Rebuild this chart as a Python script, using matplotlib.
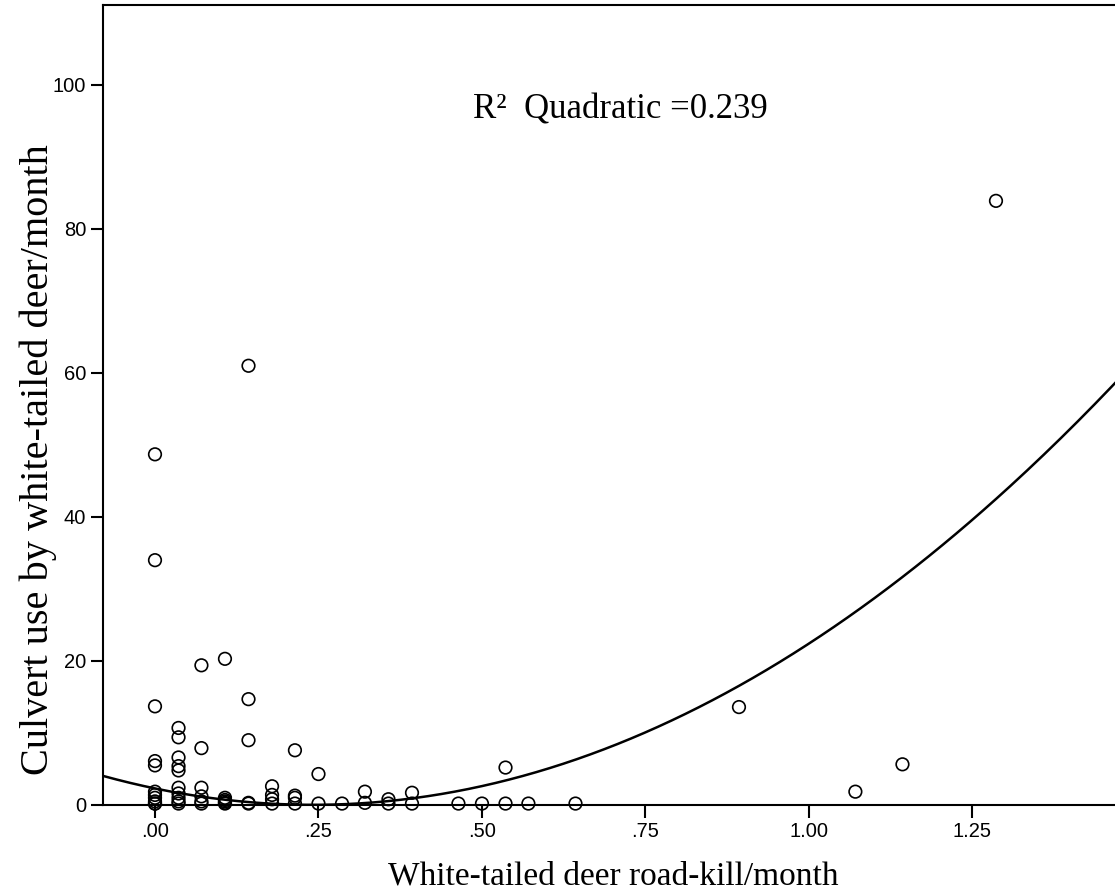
import numpy as np
import matplotlib
matplotlib.use("Agg")
import matplotlib.pyplot as plt

# road-kill/month (x) and culvert use/month (y)
roadkill = [0.000] * 11 + [0.036] * 10 + [0.071] * 6 + [0.107] * 6 + [0.143] * 5 \
    + [0.179] * 4 + [0.214] * 4 + [0.250] * 2 + [0.286] + [0.321] * 2 + [0.357] * 2 \
    + [0.393] * 2 + [0.464, 0.500] + [0.536] * 2 + [0.571, 0.643, 0.893, 1.071, 1.143, 1.286]
culvert_use = [48.7, 34.0, 13.7, 6.1, 5.5, 1.85, 1.4, 1.0, 0.5, 0.2, 0.2,
               10.7, 9.4, 6.6, 5.4, 4.8, 2.4, 1.6, 1.0, 0.5, 0.2,
               19.4, 7.9, 2.4, 1.2, 0.5, 0.2,
               20.3, 1.0, 0.7, 0.5, 0.3, 0.2,
               61.0, 14.7, 9.0, 0.3, 0.2,
               2.6, 1.4, 0.8, 0.2,
               7.6, 1.3, 1.0, 0.2,
               4.3, 0.2,
               0.2,
               1.85, 0.3,
               0.8, 0.2,
               1.7, 0.2,
               0.2, 0.2,
               5.2, 0.2,
               0.2, 0.2, 13.6, 1.85, 5.65, 83.9]

# quadratic fit line: a + b*x + c*x^2
fit_a, fit_b, fit_c = 2.3, -18.82, 38.94
r2_text = "R²  Quadratic =0.239"

x_ticks = [0, 0.25, 0.5, 0.75, 1.0, 1.25]
x_ticklabels = [".00", ".25", ".50", ".75", "1.00", "1.25"]
y_ticks = [0, 20, 40, 60, 80, 100]

fig = plt.figure(figsize=(11.15, 8.92), dpi=100)
ax = fig.add_axes([103 / 1115, 1 - 805 / 892, 1 - 103 / 1115, (805 - 5) / 892])

xmin, xmax = -0.0795, 1.468
xs = np.linspace(xmin, xmax, 300)
ax.plot(xs, fit_a + fit_b * xs + fit_c * xs ** 2, color="black", lw=1.8, zorder=2)
ax.scatter(roadkill, culvert_use, s=82, facecolors="none", edgecolors="black",
           linewidths=1.2, zorder=3, clip_on=False)

ax.set_xlim(xmin, xmax)
ax.set_ylim(0, 111.1)
ax.set_xticks(x_ticks)
ax.set_xticklabels(x_ticklabels)
ax.set_yticks(y_ticks)

for s in ["left", "bottom", "top"]:
    ax.spines[s].set_linewidth(1.5)
ax.spines["right"].set_visible(False)

ax.tick_params(direction="out", length=9, width=1.5, labelsize=14.5, pad=3)
for lbl in ax.get_xticklabels() + ax.get_yticklabels():
    lbl.set_family("Liberation Sans")

# axis titles placed where they sit in the original
fig.text(613 / 1115, 1 - 876 / 892, "White-tailed deer road-kill/month",
         family="Liberation Serif", fontsize=24, ha="center", va="center")
fig.text(38 / 1115, 1 - 460 / 892, "Culvert use by white-tailed deer/month",
         family="Liberation Serif", fontsize=29, rotation=90, ha="center", va="center")

ax.text(0.711, 96.5, r2_text, family="Liberation Serif", fontsize=25,
        ha="center", va="center")

fig.savefig("out.png", dpi=100)
